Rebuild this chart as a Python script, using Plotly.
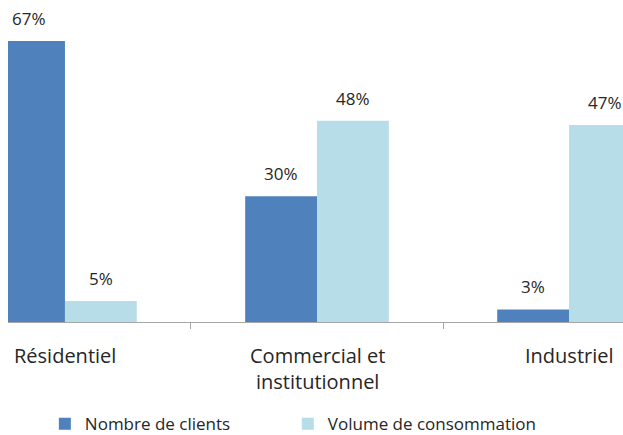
import plotly.graph_objects as go

categories = ["Résidentiel", "Commercial et<br>institutionnel", "Industriel"]
clients = [67, 30, 3]
volume = [5, 48, 47]
series_names = ["Nombre de clients", "Volume de consommation"]

c_dark = "#4F81BD"
c_light = "#B7DDE8"
font_family = "Open Sans"
txt_col = "#262626"

idx = list(range(len(categories)))

fig = go.Figure()
fig.add_trace(go.Bar(x=idx, y=clients, name=series_names[0], marker_color=c_dark,
                     marker_line_width=0, legend="legend"))
fig.add_trace(go.Bar(x=idx, y=volume, name=series_names[1], marker_color=c_light,
                     marker_line_width=0, legend="legend2"))

annotations = []
for i, (a, b) in enumerate(zip(clients, volume)):
    for v, off in ((a, -0.143), (b, 0.143)):
        annotations.append(dict(x=i + off, y=v, xref="x", yref="y", text=f"{v}%",
                                showarrow=False, yanchor="bottom", yshift=9,
                                font=dict(size=17, color=txt_col, family=font_family)))
for i, c in enumerate(categories):
    annotations.append(dict(x=i, y=0, xref="x", yref="y", text=c, showarrow=False,
                            yanchor="top", yshift=-18,
                            font=dict(size=20, color=txt_col, family=font_family)))

legend_common = dict(orientation="h", xref="container", yref="container",
                     xanchor="left", y=0.025, yanchor="middle",
                     font=dict(size=17, color=txt_col, family=font_family))

fig.update_layout(
    width=623, height=435,
    margin=dict(l=8, r=0, t=0, b=113),
    paper_bgcolor="white", plot_bgcolor="white",
    barmode="group", bargap=0.43, bargroupgap=0,
    annotations=annotations,
    showlegend=True,
    legend=dict(x=0.072, **legend_common),
    legend2=dict(x=0.462, **legend_common),
    xaxis=dict(range=[-0.226, 2.214], tickmode="array", tickvals=[0.5, 1.5],
               showticklabels=False, ticks="outside", ticklen=6, tickcolor="#A6A6A6",
               showline=True, linecolor="#A6A6A6", linewidth=1, showgrid=False,
               zeroline=False),
    yaxis=dict(range=[0, 76.8], visible=False, showgrid=False, zeroline=False),
)

fig.write_html("out.html", config={"displayModeBar": False},
               post_script="document.body.style.margin='0';document.body.style.padding='0';")
